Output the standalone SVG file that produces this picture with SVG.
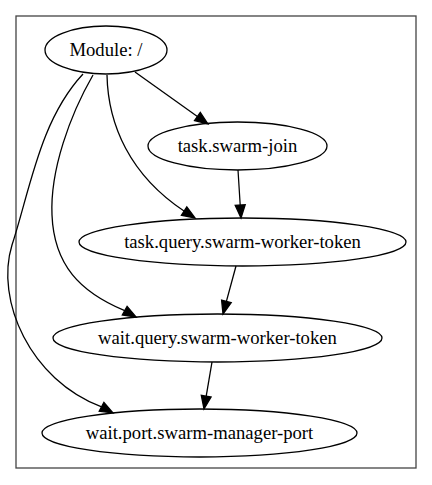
<svg xmlns="http://www.w3.org/2000/svg" width="432" height="485" viewBox="0 0 432 485">
<style>
.n ellipse{fill:none;stroke:#000;stroke-width:1.3}
.n text{font-family:"Liberation Serif","Times New Roman",serif;font-size:18.67px;text-anchor:middle;fill:#000}
.e path{fill:none;stroke:#000;stroke-width:1.3}
.e polygon{fill:#000;stroke:#000;stroke-width:1.3}
</style>
<rect x="16" y="16" width="400" height="452" fill="#fff" stroke="#444" stroke-width="1.3"/>
<g class="e" id="edges">
<path d="M135,72 L197.4,116.5"/>
<polygon points="208,124 200.3,112.4 194.5,120.6"/>
<path d="M107,75 C108,125 130,175 184,211"/>
<polygon points="195,218 186.8,206.8 181.4,215.2"/>
<path d="M93,75 C70,115 50,170 52,215 C54,265 80,292 124.7,310.6"/>
<polygon points="136,317 127.1,306.3 122.3,315"/>
<path d="M83,74 C40,120 30,190 12,245 C-5,300 30,380 101.6,406.9"/>
<polygon points="113,413 103.9,402.5 99.2,411.3"/>
<path d="M238,170 L240.2,205"/>
<polygon points="241,218 245.2,204.7 235.2,205.3"/>
<path d="M236,266 L226.4,301.4"/>
<polygon points="223,314 231.2,302.7 221.6,300.1"/>
<path d="M212,362 L206.2,396.2"/>
<polygon points="204,409 211.1,397 201.3,395.4"/>
</g>
<g class="n" id="module"><ellipse cx="106" cy="50" rx="61" ry="24"/><text x="106" y="56">Module: /</text></g>
<g class="n" id="task-swarm-join"><ellipse cx="237.5" cy="146" rx="89.5" ry="24"/><text x="237.5" y="152">task.swarm-join</text></g>
<g class="n" id="task-query"><ellipse cx="242.5" cy="242" rx="163.5" ry="24"/><text x="242.5" y="248">task.query.swarm-worker-token</text></g>
<g class="n" id="wait-query"><ellipse cx="217.5" cy="338" rx="164.5" ry="24"/><text x="217.5" y="344">wait.query.swarm-worker-token</text></g>
<g class="n" id="wait-port"><ellipse cx="199.5" cy="433" rx="157.5" ry="24"/><text x="199.5" y="439">wait.port.swarm-manager-port</text></g>
</svg>
